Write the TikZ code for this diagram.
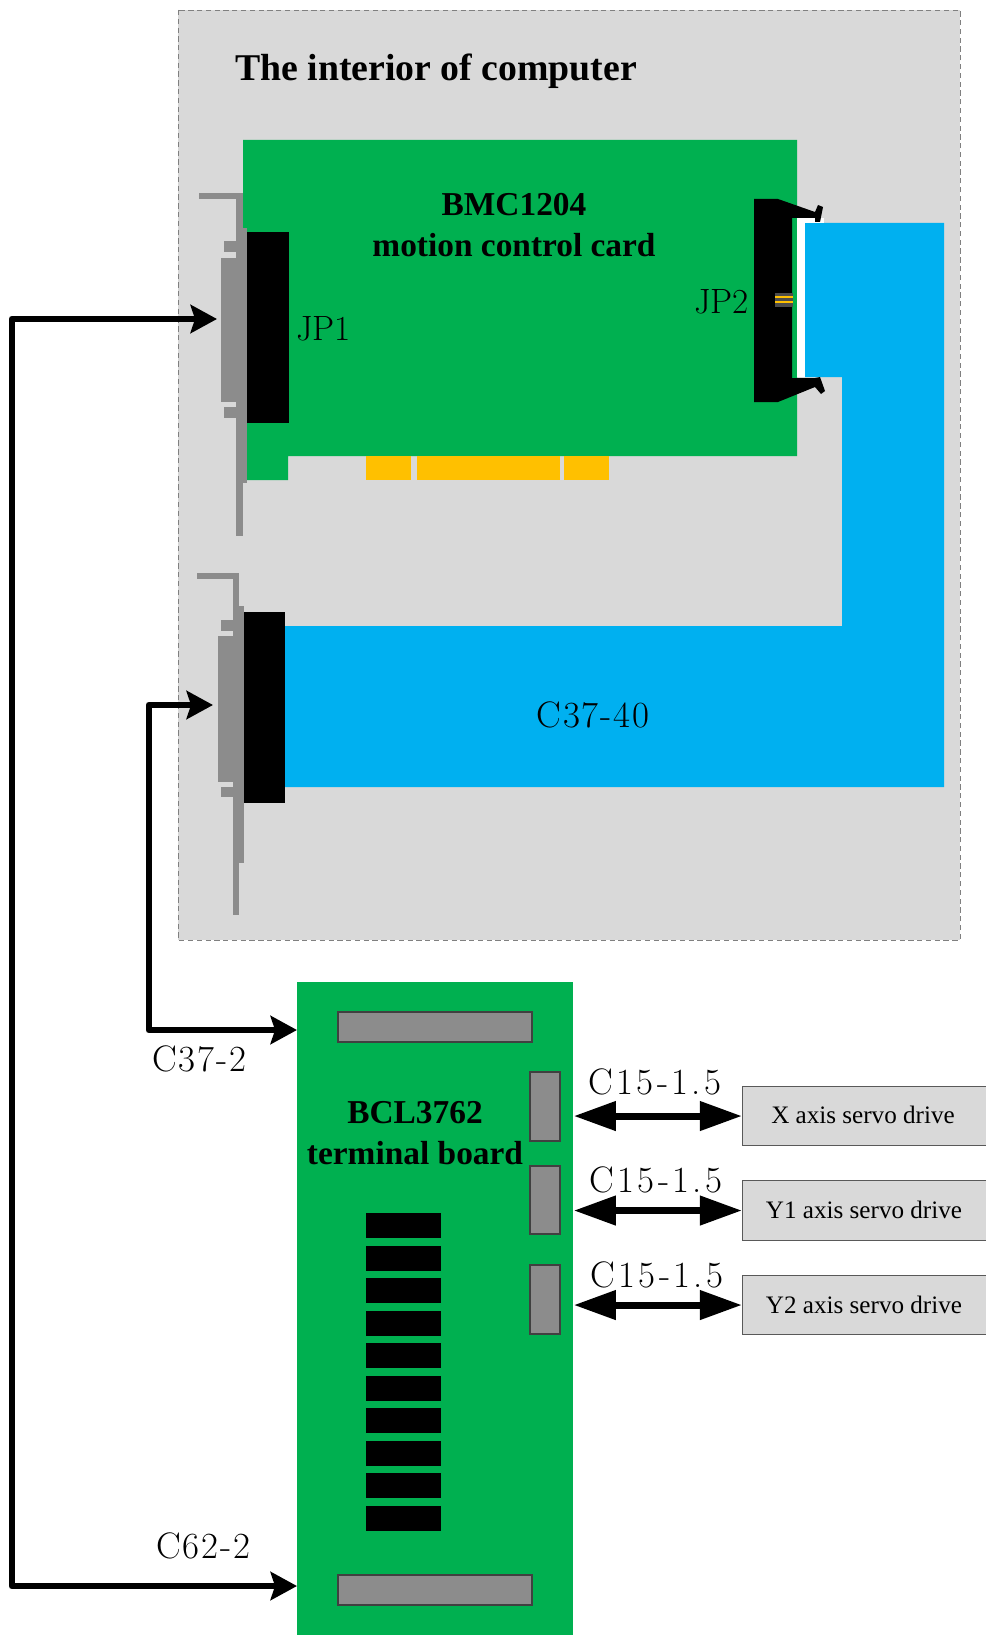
\documentclass[tikz,border=0pt]{standalone}
\usepackage{fontspec}
\setmainfont{Liberation Serif}
\newfontfamily\cableFont[LetterSpace=5]{Latin Modern Roman}
\newfontfamily\wideFont[LetterSpace=9]{Latin Modern Roman}
\newfontfamily\headerFont{Latin Modern Roman}
\usetikzlibrary{calc, arrows.meta}

\tikzset{
    cableLabel/.style={font=\cableFont\fontsize{21}{21}\selectfont, inner sep=0pt},
    driveCable/.style={font=\wideFont\fontsize{21}{21}\selectfont, inner sep=0pt},
    headerLabel/.style={font=\headerFont\fontsize{20}{20}\selectfont, inner sep=0pt, anchor=base west},
    boldLabel/.style={font=\bfseries\fontsize{19}{23}\selectfont, align=center, inner sep=0pt},
    driveBox/.style={draw=boxBorder, fill=panelFill, line width=0.6pt, anchor=north west, inner sep=0pt},
    driveLabel/.style={font=\fontsize{14.3}{14.3}\selectfont, inner sep=0pt},
    busLine/.style={line width=3.8pt, line join=round, arrows={Stealth[length=15pt,width=16pt,inset=2.5pt]-Stealth[length=15pt,width=16pt,inset=2.5pt]}},
    driveLine/.style={line width=4pt, arrows={Triangle[length=24pt,width=16pt]-Triangle[length=24pt,width=16pt]}},
    socket/.style={fill=portGrey, draw=black!75, line width=0.6pt}
}

\begin{document}
\begin{tikzpicture}[x=0.02cm, y=-0.02cm]
    % Define colours
    \definecolor{panelFill}{HTML}{D9D9D9}
    \definecolor{boxBorder}{HTML}{595959}
    \definecolor{boardGreen}{HTML}{00B050}
    \definecolor{cableBlue}{HTML}{00B0F0}
    \definecolor{fingerGold}{HTML}{FFC000}
    \definecolor{portGrey}{HTML}{8C8C8C}

    \useasboundingbox (0,0) rectangle (985,1635);

    % Draw the computer interior
    \filldraw[fill=panelFill, draw=gray, densely dashed, line width=0.5pt] (178,10) rectangle (960,940);
    \node[font=\bfseries\fontsize{21.5}{21.5}\selectfont, inner sep=0pt] (interiorTitle) at (436,71) {The interior of computer};

    % Draw the flat cable
    \fill[cableBlue] (805,223) -- (944,223) -- (944,787) -- (285,787) -- (285,626) -- (842,626) -- (842,377) -- (805,377) -- cycle;

    % Draw the motion control card
    \fill[boardGreen] (243,140) -- (797,140) -- (797,456) -- (288,456) -- (288,480) -- (243,480) -- cycle;
    \foreach \a/\b in {366/411, 417/560, 564/609}
        \fill[fingerGold] (\a,456) rectangle (\b,480);
    \node[boldLabel] (cardLabel) at (514,225) {BMC1204\\motion control card};

    % Draw the upper bracket
    \fill[portGrey] (199,193) rectangle (243,199);
    \fill[portGrey] (236,193) rectangle (243,536);
    \fill[portGrey] (236,228) rectangle (247,483);
    \fill[portGrey] (224,241) rectangle (236,252);
    \fill[portGrey] (224,407) rectangle (236,418);
    \fill[portGrey] (221,258) rectangle (236,402);
    \fill[black] (247,232) rectangle (289,423);
    \node[headerLabel] (jpOne) at (296,340) {JP1};

    % Draw the JP2 header with its latches
    \fill[white] (797,218) rectangle (805,377);
    \fill[white] (805,218) rectangle (824,223);
    \fill[black] (754,199) -- (778,199) -- (815,212) -- (818,205) -- (823,207) -- (820,222) -- (815,222) -- (815,218)
        -- (792,218) -- (792,378) -- (815,378) -- (820,377) -- (825,391) -- (821,394) -- (815,387) -- (778,402) -- (754,402) -- cycle;
    \fill[black!70] (775,293) rectangle (793,307);
    \fill[fingerGold] (775,296.5) rectangle (793,298);
    \fill[fingerGold] (775,301.5) rectangle (793,303);
    \node[headerLabel] (jpTwo) at (694,314) {JP2};

    % Draw the lower bracket
    \fill[portGrey] (197,573) rectangle (239,579);
    \fill[portGrey] (233,573) rectangle (239,915);
    \fill[portGrey] (233,606) rectangle (244,863);
    \fill[portGrey] (221,620) rectangle (233,631);
    \fill[portGrey] (221,787) rectangle (233,797);
    \fill[portGrey] (218,636) rectangle (233,782);
    \fill[black] (244,612) rectangle (285,803);
    \node[cableLabel] (flatCable) at (593,715) {C37-40};

    % Draw the terminal board
    \node[fill=boardGreen, inner sep=0pt, anchor=north west, minimum width=276*0.02cm, minimum height=653*0.02cm] (board) at (297,982) {};
    \filldraw[socket] (338,1012) rectangle (532,1042);
    \filldraw[socket] (338,1575) rectangle (532,1605);
    \filldraw[socket] (530,1072) rectangle (560,1141);
    \filldraw[socket] (530,1166) rectangle (560,1234);
    \filldraw[socket] (530,1265) rectangle (560,1334);
    \foreach \i in {0,...,9}
        \fill[black] (366,{1213+\i*32.5}) rectangle (441,{1238+\i*32.5});
    \node[boldLabel] (boardLabel) at (415,1133) {BCL3762\\terminal board};

    % Draw the servo drives
    \node[driveBox, minimum width=250*0.02cm, minimum height=59*0.02cm] (driveX) at (742,1086) {};
    \node[driveBox, minimum width=250*0.02cm, minimum height=60*0.02cm] (driveYa) at (742,1180) {};
    \node[driveBox, minimum width=250*0.02cm, minimum height=59*0.02cm] (driveYb) at (742,1275) {};
    \node[driveLabel] (driveXLabel) at (863,1115) {X axis servo drive};
    \node[driveLabel] (driveYaLabel) at (864,1210) {Y1 axis servo drive};
    \node[driveLabel] (driveYbLabel) at (864,1305) {Y2 axis servo drive};

    % Define the free ends of the long cables
    \coordinate (portA) at (217,319);
    \coordinate (portB) at (213,705);
    \coordinate (boardTop) at (297,1030);
    \coordinate (boardBottom) at (297,1586);
    \coordinate (busA) at (12,319);
    \coordinate (busB) at (149,705);

    % Draw the cables
    \draw[busLine] (portA) -- (busA) |- (boardBottom);
    \draw[busLine] (portB) -- (busB) |- (boardTop);
    \draw[driveLine] (driveX.west -| board.east) -- (driveX.west);
    \draw[driveLine] (driveYa.west -| board.east) -- (driveYa.west);
    \draw[driveLine] (driveYb.west -| board.east) -- (driveYb.west);

    % Label the cables
    \node[cableLabel] (cableTop) at (199,1059) {C37-2};
    \node[cableLabel] (cableBottom) at (203,1546) {C62-2};
    \node[driveCable] (cableX) at (655,1082) {C15-1.5};
    \node[driveCable] (cableYa) at (656,1180) {C15-1.5};
    \node[driveCable] (cableYb) at (657,1275) {C15-1.5};
\end{tikzpicture}
\end{document}
